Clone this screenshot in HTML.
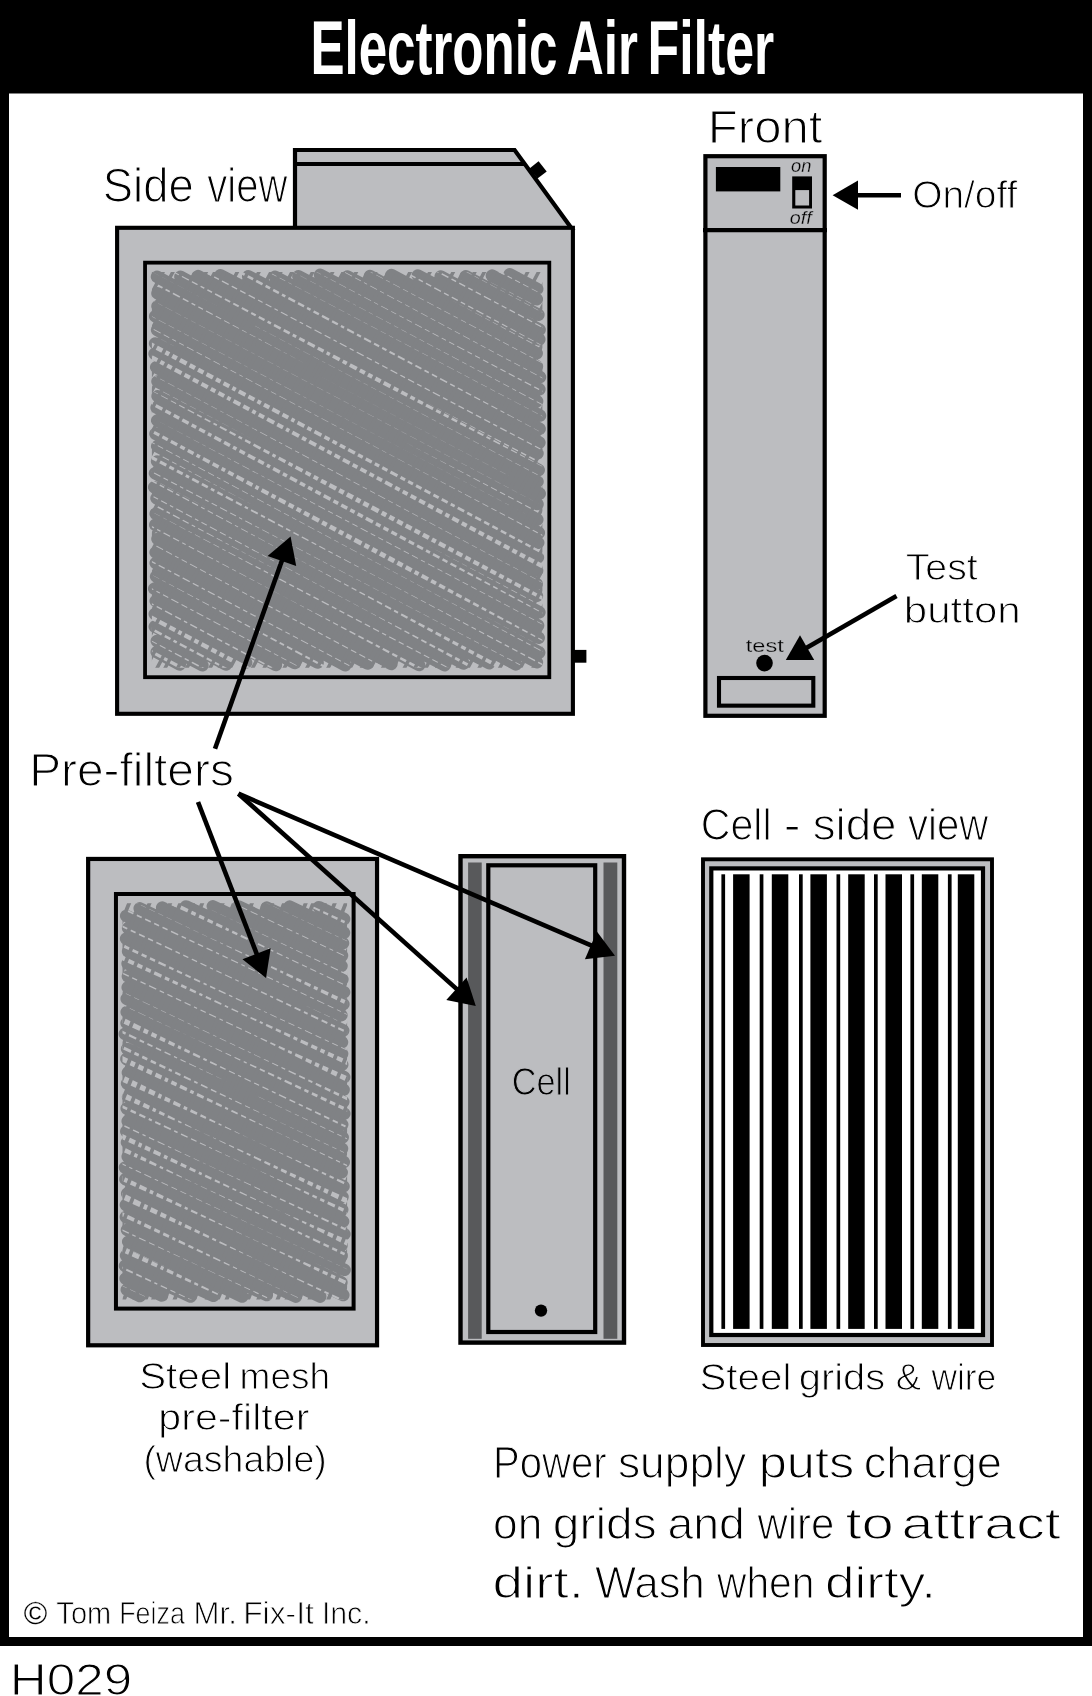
<!DOCTYPE html>
<html><head><meta charset="utf-8"><title>Electronic Air Filter</title>
<style>
html,body{margin:0;padding:0;background:#fff;}
body{width:1092px;height:1696px;overflow:hidden;font-family:"Liberation Sans",sans-serif;}
svg{display:block;will-change:transform;}
text{font-family:"Liberation Sans",sans-serif;fill:#000;}
.t{font-family:"Liberation Sans",sans-serif;font-weight:bold;fill:#fff;}
</style></head><body>
<svg width="1092" height="1696" viewBox="0 0 1092 1696">
<rect x="0" y="0" width="1092" height="1696" fill="#fff"/>
<rect x="0" y="0" width="1092" height="1646" fill="#000"/>
<rect x="9" y="93.5" width="1074" height="1543.5" fill="#fff"/>
<path d="M295 228V150H514.6L571.3 228Z" fill="#bcbdc0" stroke="#000" stroke-width="4.2" stroke-linejoin="miter"/>
<path d="M295 163.9H524.5" stroke="#000" stroke-width="4" fill="none"/>
<path d="M529.5 168.5 L538.6 161.3 L546.7 171.4 L537.5 178.6Z" fill="#000"/>
<rect x="573" y="649.9" width="13.4" height="12.8" fill="#000"/>
<rect x="117.1" y="227.8" width="455.8" height="486.0" fill="#bcbdc0" stroke="#000" stroke-width="4.1"/>
<rect x="145.05" y="262.65" width="404.25" height="414.55" fill="#bcbdc0" stroke="#000" stroke-width="3.8"/>
<clipPath id="c1"><rect x="146.9" y="264.5" width="400.5" height="410.8"/></clipPath>
<g clip-path="url(#c1)">
<path d="M509.7 274.3L537.2 289.0 M491.9 275.6L536.8 299.2 M465.8 276.2L538.4 314.7 M440.7 276.4L539.6 329.7 M417.8 275.5L539.3 339.4 M391.4 274.9L536.7 353.2 M369.9 276.1L536.9 366.3 M347.4 276.5L540.0 377.0 M320.1 274.8L539.4 389.3 M298.4 276.2L537.1 401.2 M275.0 276.7L540.0 415.6 M248.2 276.2L539.6 428.9 M220.4 275.2L539.4 442.5 M197.9 276.1L537.5 453.3 M180.4 276.8L538.7 470.0 M157.0 276.8L537.5 481.6 M157.5 293.3L539.7 493.6 M157.5 306.2L537.5 504.1 M155.2 316.3L537.3 519.5 M157.1 329.9L538.8 532.7 M155.1 343.4L538.2 542.7 M154.6 353.7L537.9 557.4 M156.2 367.2L537.1 570.6 M157.5 381.4L536.7 583.9 M157.6 396.2L536.9 595.9 M156.6 407.6L539.4 612.3 M157.2 420.5L538.1 625.5 M155.5 433.7L538.7 637.7 M157.2 446.3L539.2 652.5 M157.1 461.4L536.9 662.3 M155.0 473.2L516.0 664.4 M154.2 487.2L489.3 663.2 M156.5 498.3L463.5 663.5 M155.7 513.7L444.7 665.2 M155.3 524.8L419.1 665.1 M157.5 538.9L391.4 663.9 M155.6 552.4L367.6 663.5 M155.7 562.9L345.2 665.2 M156.1 576.4L317.6 662.6 M154.2 588.6L294.7 663.0 M155.7 600.9L275.9 665.0 M154.8 613.9L246.1 662.6 M154.8 626.6L226.0 664.6 M156.8 641.0L202.4 665.3 M156.7 652.0L179.8 664.4" stroke="#808285" stroke-width="12.5" stroke-linecap="round" fill="none"/>
<clipPath id="c1s"><rect x="151.9" y="272.0" width="390.5" height="395.8"/></clipPath>
<g clip-path="url(#c1s)">
<path d="M143.2 49.0L406.5 190.7L552.5 270.8L552.3 271.1L404.7 194.1L140.6 53.8Z M142.5 65.8L276.1 136.1L552.5 282.2L552.3 282.7L275.1 138.1L141.3 68.0Z M142.0 83.6L403.7 219.7L552.5 299.5L552.3 299.9L402.2 222.5L141.8 83.9Z M142.0 97.8L384.9 227.7L552.5 317.7L552.3 317.9L384.5 228.4L141.8 98.3Z M143.0 112.8L299.8 197.3L552.6 332.1L552.2 333.0L298.7 199.3L140.8 116.9Z M142.6 129.9L270.1 198.6L552.6 350.8L552.2 351.4L269.1 200.6L141.2 132.5Z M142.4 149.7L353.6 262.7L552.6 368.0L552.2 368.7L353.4 263.1L141.4 151.7Z M142.1 163.2L413.1 308.5L552.6 383.2L552.2 383.8L412.8 309.1L141.7 164.1Z M141.9 179.7L297.0 261.5L552.7 395.9L552.1 397.0L296.8 261.7L141.9 179.9Z M142.0 191.3L348.9 301.5L552.6 409.6L552.2 410.3L348.8 301.7L141.8 191.6Z M142.6 204.1L298.6 287.8L552.5 421.3L552.3 421.7L298.5 288.0L141.2 206.7Z M142.6 218.8L398.6 355.4L552.4 438.2L552.4 438.4L397.6 357.2L141.2 221.4Z M142.3 238.0L304.6 324.1L552.7 454.8L552.1 455.9L304.1 324.9L141.5 239.5Z M142.0 255.1L378.5 377.7L552.5 471.5L552.3 471.9L376.6 381.4L141.8 255.6Z M141.9 266.4L347.7 374.6L552.5 482.3L552.3 482.8L347.6 374.8L141.9 266.5Z M141.9 282.6L289.1 360.1L552.4 498.6L552.4 498.7L289.1 360.1L141.9 282.6Z M141.9 294.8L341.0 399.5L552.4 510.9L552.4 511.0L340.9 399.7L141.9 294.9Z M142.0 311.1L403.7 449.5L552.4 528.0L552.4 528.0L403.6 449.6L141.8 311.5Z M142.1 322.9L411.8 465.9L552.7 540.1L552.1 541.0L411.6 466.3L141.7 323.6Z M143.0 337.6L397.9 474.2L552.9 557.3L551.9 559.2L396.5 477.0L140.8 341.8Z M142.9 350.2L380.0 477.2L553.4 569.6L551.4 573.6L378.2 480.6L140.9 353.8Z M142.0 369.0L323.6 465.6L552.5 587.9L552.3 588.2L323.3 466.3L141.8 369.4Z M142.0 385.2L353.7 495.2L553.3 601.9L551.5 605.1L351.5 499.4L141.8 385.4Z M142.7 396.7L387.2 527.7L552.6 617.9L552.2 618.6L385.5 530.8L141.1 399.8Z M141.9 412.5L355.6 525.0L552.5 629.4L552.3 629.8L355.1 525.8L141.9 412.5Z M142.6 424.5L390.9 556.4L552.6 645.4L552.2 646.1L388.6 560.8L141.2 427.3Z M142.1 436.8L420.4 585.9L552.6 656.4L552.2 657.2L420.2 586.3L141.7 437.5Z M142.7 450.8L382.8 579.8L552.8 669.2L552.0 670.6L382.6 580.1L141.1 453.7Z M142.2 466.0L388.0 595.5L552.6 681.4L552.2 682.2L387.9 595.7L141.6 467.2Z M142.3 474.7L305.1 562.8L553.6 693.2L551.2 697.6L305.0 562.9L141.5 476.1Z M142.2 489.9L367.6 611.1L553.7 707.8L551.1 712.5L367.5 611.3L141.6 491.0Z M141.9 506.6L308.4 593.5L552.6 722.4L552.2 723.0L307.8 594.7L141.9 506.7Z M142.2 520.9L283.8 596.4L553.7 736.2L551.1 741.0L283.7 596.6L141.6 522.0Z M142.1 537.9L369.2 659.1L552.7 756.6L552.1 757.9L368.8 659.9L141.7 538.8Z M142.2 555.9L309.8 644.3L552.6 772.1L552.2 773.0L309.3 645.1L141.6 557.1Z M141.9 569.5L369.3 688.9L552.5 787.5L552.3 787.9L368.0 691.3L141.9 569.6Z M142.2 583.1L398.0 719.1L552.6 800.7L552.2 801.4L397.8 719.4L141.6 584.1Z M142.2 598.1L428.0 749.9L552.7 816.8L552.1 818.1L427.0 751.8L141.6 599.1Z M142.9 610.7L279.0 682.6L552.5 830.1L552.3 830.5L276.9 686.7L140.9 614.3Z M142.5 622.7L373.9 746.7L552.5 841.6L552.3 841.9L373.6 747.3L141.3 625.1Z M142.1 635.6L326.0 731.2L552.8 851.9L552.0 853.3L324.4 734.2L141.7 636.3Z M142.6 645.3L316.2 736.9L553.6 863.0L551.2 867.6L314.0 741.0L141.2 648.1Z M143.1 658.5L331.1 758.3L552.7 877.2L552.1 878.4L329.0 762.2L140.7 663.0Z" fill="#bcbdc0"/>
<path d="M-183.0 837.8L355.7 -175.4 M-173.7 842.8L365.0 -170.4 M-164.7 847.5L374.0 -165.6 M-157.0 851.6L381.7 -161.5 M-147.8 856.5L390.9 -156.6 M-140.1 860.6L398.6 -152.5 M-132.8 864.5L405.9 -148.6 M-122.8 869.8L415.9 -143.3 M-114.1 874.4L424.6 -138.7 M-107.3 878.0L431.4 -135.1 M-99.6 882.1L439.1 -131.0 M-89.9 887.3L448.8 -125.8 M-81.5 891.8L457.2 -121.3 M-73.0 896.3L465.7 -116.9 M-63.6 901.3L475.1 -111.8 M-56.0 905.3L482.7 -107.8 M-47.2 910.0L491.5 -103.1 M-40.8 913.4L497.9 -99.7 M-31.1 918.6L507.6 -94.6 M-22.1 923.4L516.6 -89.8 M-15.6 926.8L523.1 -86.3 M-7.2 931.3L531.5 -81.9 M2.9 936.7L541.6 -76.5 M11.8 941.3L550.4 -71.8 M18.0 944.7L556.7 -68.5 M27.8 949.9L566.5 -63.2 M34.9 953.7L573.6 -59.5 M44.9 959.0L583.6 -54.2 M53.0 963.3L591.7 -49.8 M60.4 967.2L599.0 -45.9 M68.7 971.6L607.4 -41.5 M78.5 976.8L617.2 -36.3 M86.2 981.0L624.9 -32.2 M95.3 985.8L634.0 -27.4 M102.7 989.7L641.4 -23.4 M110.9 994.1L649.6 -19.1 M121.0 999.4L659.7 -13.7 M128.6 1003.5L667.3 -9.7 M136.5 1007.7L675.2 -5.5 M145.0 1012.2L683.7 -0.9 M153.9 1016.9L692.6 3.8 M162.2 1021.4L700.9 8.2 M171.2 1026.1L709.9 13.0 M178.2 1029.9L716.9 16.7 M187.7 1034.9L726.4 21.8 M195.7 1039.1L734.4 26.0 M204.6 1043.9L743.3 30.7 M212.8 1048.3L751.5 35.1 M221.3 1052.8L760.0 39.6 M229.8 1057.3L768.5 44.2 M238.4 1061.9L777.1 48.7 M245.9 1065.9L784.6 52.7 M254.0 1070.2L792.7 57.0 M262.9 1074.9L801.6 61.7 M271.5 1079.5L810.2 66.3 M278.9 1083.4L817.6 70.3 M287.3 1087.9L826.0 74.7 M295.0 1091.9L833.6 78.8 M304.9 1097.2L843.6 84.1 M314.0 1102.0L852.7 88.9 M320.7 1105.6L859.4 92.5 M328.6 1109.8L867.3 96.7 M337.0 1114.3L875.7 101.2" stroke="#808285" stroke-width="3.5" fill="none"/>
</g></g>
<rect x="705.4" y="156.2" width="119.3" height="559.6" fill="#bcbdc0" stroke="#000" stroke-width="4.2"/>
<path d="M703 230.1H827" stroke="#000" stroke-width="4.2"/>
<rect x="715.9" y="167" width="64.4" height="24.4" fill="#000"/>
<rect x="792.2" y="176.4" width="19.8" height="32.1" fill="#000"/>
<rect x="795.3" y="190.1" width="13.8" height="15.4" fill="#bcbdc0"/>
<rect x="719" y="678" width="94.3" height="27.65" fill="#bcbdc0" stroke="#000" stroke-width="4.1"/>
<circle cx="764.5" cy="663.1" r="8.3" fill="#000"/>
<rect x="88.15" y="858.95" width="288.9" height="486.35" fill="#bcbdc0" stroke="#000" stroke-width="4.2"/>
<rect x="115.95" y="894" width="237.65" height="414.6" fill="#bcbdc0" stroke="#000" stroke-width="4.0"/>
<clipPath id="c2"><rect x="118" y="896.2" width="233.6" height="410.2"/></clipPath>
<g clip-path="url(#c2)">
<path d="M318.9 907.2L344.1 919.0 M289.6 906.6L344.0 932.7 M266.7 907.6L343.0 943.2 M238.3 906.4L342.0 955.5 M212.8 906.3L341.5 965.8 M186.0 906.4L342.4 979.3 M162.2 907.6L344.1 992.2 M139.7 908.3L343.4 1004.2 M126.2 915.9L341.4 1015.2 M128.1 928.1L343.2 1030.5 M126.1 938.7L342.0 1042.2 M128.1 951.4L342.1 1053.8 M127.6 963.6L342.2 1064.7 M127.9 976.3L344.2 1077.2 M127.7 987.4L343.6 1089.7 M126.7 998.8L343.3 1101.8 M126.7 1012.1L344.3 1113.7 M126.6 1023.1L342.2 1124.6 M124.8 1033.9L342.7 1137.3 M127.1 1048.9L342.0 1148.6 M126.4 1059.0L343.8 1162.0 M127.9 1072.7L341.7 1172.3 M127.1 1083.5L343.5 1186.4 M128.1 1096.9L342.5 1196.8 M126.7 1108.5L342.2 1209.7 M127.7 1121.2L343.1 1221.4 M126.3 1131.4L344.4 1234.2 M127.0 1142.5L341.5 1245.4 M127.7 1156.6L341.7 1255.7 M125.0 1167.5L344.6 1269.8 M125.4 1179.2L341.4 1282.5 M127.2 1193.6L343.3 1295.0 M125.9 1205.0L320.2 1296.7 M125.9 1217.0L295.9 1296.7 M127.0 1229.8L266.8 1295.1 M128.2 1241.8L242.2 1296.5 M126.1 1255.5L213.4 1295.8 M125.0 1265.9L190.6 1296.6 M125.6 1278.5L162.0 1295.5 M126.8 1289.7L139.9 1296.0" stroke="#808285" stroke-width="12.5" stroke-linecap="round" fill="none"/>
<clipPath id="c2s"><rect x="122.5" y="903.2" width="224.6" height="396.2"/></clipPath>
<g clip-path="url(#c2s)">
<path d="M113.2 796.8L243.4 858.9L357.0 911.6L356.2 913.5L243.4 859.1L112.8 797.9Z M113.1 813.1L246.6 876.0L357.3 926.5L355.9 929.2L246.5 876.1L112.9 813.4Z M114.0 828.6L234.2 887.8L356.7 945.3L356.5 945.7L234.1 887.8L112.0 832.8Z M113.6 844.9L201.2 887.5L356.8 961.2L356.4 962.0L200.8 888.4L112.4 847.7Z M114.2 860.6L193.8 901.5L356.8 978.5L356.4 979.4L193.8 901.6L111.8 865.6Z M114.2 872.7L283.0 955.2L356.8 990.3L356.4 991.0L282.6 956.2L111.8 877.9Z M113.1 891.7L207.3 936.5L357.5 1005.5L355.7 1009.4L207.2 936.7L112.9 892.1Z M113.4 903.1L242.0 964.3L356.8 1018.6L356.4 1019.3L241.6 965.3L112.6 904.9Z M113.4 921.1L226.6 975.1L357.1 1035.7L356.1 1038.0L226.3 975.9L112.6 922.9Z M113.7 939.8L263.8 1010.9L356.8 1054.2L356.4 1054.8L263.4 1011.6L112.3 942.7Z M114.0 951.6L237.2 1010.8L357.6 1064.9L355.6 1069.2L236.7 1011.9L112.0 955.7Z M113.3 968.1L256.3 1035.7L357.9 1080.8L355.3 1086.2L255.8 1036.6L112.7 969.3Z M113.1 987.4L261.1 1057.5L357.3 1101.8L355.9 1104.7L260.8 1058.1L112.9 987.7Z M113.1 1000.3L189.9 1036.4L357.4 1112.7L355.8 1116.1L189.8 1036.6L112.9 1000.9Z M114.2 1013.2L229.8 1070.8L357.0 1130.8L356.2 1132.6L229.4 1071.7L111.8 1018.3Z M113.6 1026.4L227.8 1082.1L356.8 1143.0L356.4 1143.7L227.8 1082.1L112.4 1028.8Z M113.7 1041.5L278.1 1121.2L356.7 1158.1L356.5 1158.7L278.1 1121.4L112.3 1044.6Z M114.2 1051.9L280.0 1133.5L356.9 1169.3L356.3 1170.7L279.9 1133.8L111.8 1057.0Z M114.4 1071.0L248.1 1137.7L357.2 1187.6L356.0 1190.1L248.0 1137.7L111.6 1077.0Z M114.4 1087.5L201.1 1132.0L357.8 1202.9L355.4 1207.8L201.0 1132.1L111.6 1093.5Z M113.6 1101.0L250.9 1166.8L357.4 1214.5L355.8 1218.1L250.9 1166.8L112.4 1103.6Z M113.4 1120.0L210.1 1166.0L357.1 1233.5L356.1 1235.7L210.0 1166.2L112.6 1121.5Z M114.1 1130.0L281.9 1211.9L358.0 1244.2L355.2 1250.1L281.9 1212.0L111.9 1134.6Z M114.2 1142.2L191.1 1181.5L357.2 1258.5L356.0 1261.2L191.0 1181.7L111.8 1147.1Z M113.2 1159.2L270.4 1233.3L356.7 1273.5L356.5 1273.8L270.4 1233.4L112.8 1160.2Z M114.1 1172.0L246.5 1236.3L357.5 1285.6L355.7 1289.6L246.4 1236.4L111.9 1176.5Z M114.4 1188.8L257.3 1259.9L357.2 1305.8L356.0 1308.2L257.2 1260.1L111.6 1194.6Z M113.9 1208.1L268.8 1283.7L356.9 1324.8L356.3 1326.0L268.7 1283.9L112.1 1211.9Z M113.3 1225.2L196.8 1264.8L357.1 1338.5L356.1 1340.5L196.7 1265.0L112.7 1226.4Z M114.2 1242.4L228.7 1298.8L356.7 1359.4L356.5 1359.8L228.2 1299.7L111.8 1247.4Z M113.5 1262.5L203.7 1305.4L356.8 1376.4L356.4 1377.3L203.5 1305.9L112.5 1264.5Z M113.1 1281.3L204.9 1324.3L356.7 1395.0L356.5 1395.5L204.8 1324.5L112.9 1281.8Z M113.2 1300.4L188.7 1335.7L357.7 1411.5L355.5 1416.3L188.5 1336.0L112.8 1301.1Z" fill="#bcbdc0"/>
<path d="M-171.5 1446.3L182.1 570.9 M-162.3 1450.0L191.4 574.6 M-153.1 1453.7L200.6 578.4 M-145.8 1456.7L207.9 581.3 M-134.8 1461.1L218.9 585.7 M-127.6 1464.0L226.0 588.6 M-117.4 1468.1L236.2 592.8 M-110.4 1470.9L243.3 595.6 M-101.7 1474.5L252.0 599.1 M-92.6 1478.1L261.0 602.8 M-84.1 1481.6L269.5 606.2 M-74.9 1485.3L278.8 610.0 M-66.4 1488.8L287.3 613.4 M-57.7 1492.3L296.0 616.9 M-46.8 1496.7L306.9 621.3 M-38.8 1499.9L314.8 624.5 M-30.1 1503.4L323.5 628.0 M-21.3 1507.0L332.4 631.6 M-11.6 1510.9L342.0 635.5 M-5.0 1513.6L348.7 638.2 M3.9 1517.1L357.5 641.8 M14.4 1521.4L368.1 646.0 M21.4 1524.2L375.0 648.8 M31.6 1528.3L385.2 653.0 M40.7 1532.0L394.4 656.6 M50.1 1535.8L403.8 660.5 M56.6 1538.4L410.2 663.1 M66.5 1542.4L420.2 667.1 M75.1 1545.9L428.7 670.5 M84.6 1549.7L438.3 674.4 M91.9 1552.7L445.6 677.3 M102.7 1557.1L456.4 681.7 M112.1 1560.8L465.8 685.5 M119.8 1563.9L473.4 688.6 M128.9 1567.6L482.6 692.3 M138.2 1571.4L491.8 696.0 M147.0 1575.0L500.7 699.6 M155.7 1578.5L509.4 703.1 M163.6 1581.7L517.3 706.3 M171.3 1584.8L525.0 709.4 M182.1 1589.1L535.8 713.8 M191.0 1592.7L544.7 717.4 M199.5 1596.1L553.1 720.8 M207.2 1599.3L560.9 723.9 M217.8 1603.6L571.5 728.2 M225.7 1606.7L579.3 731.4 M233.6 1609.9L587.3 734.6 M243.7 1614.0L597.4 738.7 M251.0 1617.0L604.6 741.6 M259.8 1620.5L613.5 745.2 M270.5 1624.8L624.2 749.5 M276.9 1627.4L630.6 752.1" stroke="#808285" stroke-width="3.8" fill="none"/>
</g></g>
<rect x="460.5" y="856.2" width="163.5" height="486.4" fill="#bcbdc0" stroke="#000" stroke-width="4.4"/>
<rect x="468.1" y="862.5" width="13.6" height="476.3" fill="#58595b"/>
<rect x="603.5" y="862.5" width="13.8" height="476.3" fill="#58595b"/>
<rect x="488.3" y="865.3" width="106.9" height="466.7" fill="#bcbdc0" stroke="#000" stroke-width="4.2"/>
<circle cx="541" cy="1310.6" r="6.2" fill="#000"/>
<rect x="703" y="859.3" width="289" height="485.7" fill="#bcbdc0" stroke="#000" stroke-width="3.9"/>
<rect x="711.3" y="868.4" width="271.7" height="466.6" fill="#fff" stroke="#000" stroke-width="4.2"/>
<rect x="721.4" y="874.3" width="3.7" height="454.6" fill="#000"/>
<rect x="759.7" y="874.3" width="3.7" height="454.6" fill="#000"/>
<rect x="799.0" y="874.3" width="3.7" height="454.6" fill="#000"/>
<rect x="836.5" y="874.3" width="3.7" height="454.6" fill="#000"/>
<rect x="874.0" y="874.3" width="3.7" height="454.6" fill="#000"/>
<rect x="910.4" y="874.3" width="3.7" height="454.6" fill="#000"/>
<rect x="947.9" y="874.3" width="3.7" height="454.6" fill="#000"/>
<rect x="733.1" y="874.3" width="16.5" height="454.6" fill="#000"/>
<rect x="771.8" y="874.3" width="16.5" height="454.6" fill="#000"/>
<rect x="810.4" y="874.3" width="16.5" height="454.6" fill="#000"/>
<rect x="848.2" y="874.3" width="16.5" height="454.6" fill="#000"/>
<rect x="885.5" y="874.3" width="16.5" height="454.6" fill="#000"/>
<rect x="921.8" y="874.3" width="16.5" height="454.6" fill="#000"/>
<rect x="957.8" y="874.3" width="16.5" height="454.6" fill="#000"/>
<text x="310.38" y="73.9" font-size="76.5" textLength="247.01" lengthAdjust="spacingAndGlyphs" class="t" >Electronic</text>
<text x="566.72" y="73.9" font-size="76.5" textLength="71.25" lengthAdjust="spacingAndGlyphs" class="t" >Air</text>
<text x="647.53" y="73.9" font-size="76.5" textLength="126.75" lengthAdjust="spacingAndGlyphs" class="t" >Filter</text>
<text x="102.82" y="202.3" font-size="47.5" textLength="90.81" lengthAdjust="spacingAndGlyphs"  stroke="#fff" stroke-width="1.23">Side</text>
<text x="207.25" y="202.3" font-size="47.5" textLength="80.07" lengthAdjust="spacingAndGlyphs"  stroke="#fff" stroke-width="1.23">view</text>
<text x="707.88" y="142.5" font-size="45.5" textLength="114.57" lengthAdjust="spacingAndGlyphs"  stroke="#fff" stroke-width="1.18">Front</text>
<text x="912.15" y="207.5" font-size="39.5" textLength="105.3" lengthAdjust="spacingAndGlyphs"  stroke="#fff" stroke-width="1.03">On/off</text>
<text x="905.7" y="580" font-size="36" textLength="72.04" lengthAdjust="spacingAndGlyphs"  stroke="#fff" stroke-width="0.94">Test</text>
<text x="903.82" y="622.5" font-size="36" textLength="116.88" lengthAdjust="spacingAndGlyphs"  stroke="#fff" stroke-width="0.94">button</text>
<text x="29.18" y="786.3" font-size="46" textLength="204.65" lengthAdjust="spacingAndGlyphs"  stroke="#fff" stroke-width="1.2">Pre-filters</text>
<text x="700.73" y="840.3" font-size="44.5" textLength="70.8" lengthAdjust="spacingAndGlyphs"  stroke="#fff" stroke-width="1.16">Cell</text>
<text x="783.77" y="840.3" font-size="44.5" textLength="16.86" lengthAdjust="spacingAndGlyphs"  stroke="#fff" stroke-width="1.16">-</text>
<text x="812.75" y="840.3" font-size="44.5" textLength="83.76" lengthAdjust="spacingAndGlyphs"  stroke="#fff" stroke-width="1.16">side</text>
<text x="907.98" y="840.3" font-size="44.5" textLength="80.2" lengthAdjust="spacingAndGlyphs"  stroke="#fff" stroke-width="1.16">view</text>
<text x="511.74" y="1095" font-size="39.5" textLength="59.06" lengthAdjust="spacingAndGlyphs"  stroke="#bcbdc0" stroke-width="1.03">Cell</text>
<text x="699.4" y="1390.4" font-size="36" textLength="91.97" lengthAdjust="spacingAndGlyphs"  stroke="#fff" stroke-width="0.94">Steel</text>
<text x="798.65" y="1390.4" font-size="36" textLength="86.66" lengthAdjust="spacingAndGlyphs"  stroke="#fff" stroke-width="0.94">grids</text>
<text x="895.69" y="1390.4" font-size="36" textLength="25.37" lengthAdjust="spacingAndGlyphs"  stroke="#fff" stroke-width="0.94">&amp;</text>
<text x="931.38" y="1390.4" font-size="36" textLength="64.86" lengthAdjust="spacingAndGlyphs"  stroke="#fff" stroke-width="0.94">wire</text>
<text x="139.18" y="1389.3" font-size="37.5" textLength="92.0" lengthAdjust="spacingAndGlyphs"  stroke="#fff" stroke-width="0.97">Steel</text>
<text x="239.56" y="1389.3" font-size="37.5" textLength="90.53" lengthAdjust="spacingAndGlyphs"  stroke="#fff" stroke-width="0.97">mesh</text>
<text x="158.36" y="1430.3" font-size="37.5" textLength="151.01" lengthAdjust="spacingAndGlyphs"  stroke="#fff" stroke-width="0.97">pre-filter</text>
<text x="143.39" y="1471.5" font-size="37.5" textLength="183.42" lengthAdjust="spacingAndGlyphs"  stroke="#fff" stroke-width="0.97">(washable)</text>
<text x="493.03" y="1478.4" font-size="44.5" textLength="113.61" lengthAdjust="spacingAndGlyphs"  stroke="#fff" stroke-width="1.16">Power</text>
<text x="617.88" y="1478.4" font-size="44.5" textLength="128.28" lengthAdjust="spacingAndGlyphs"  stroke="#fff" stroke-width="1.16">supply</text>
<text x="758.66" y="1478.4" font-size="44.5" textLength="95.65" lengthAdjust="spacingAndGlyphs"  stroke="#fff" stroke-width="1.16">puts</text>
<text x="863.7" y="1478.4" font-size="44.5" textLength="138.29" lengthAdjust="spacingAndGlyphs"  stroke="#fff" stroke-width="1.16">charge</text>
<text x="493.06" y="1538.5" font-size="44.5" textLength="49.3" lengthAdjust="spacingAndGlyphs"  stroke="#fff" stroke-width="1.16">on</text>
<text x="552.81" y="1538.5" font-size="44.5" textLength="103.8" lengthAdjust="spacingAndGlyphs"  stroke="#fff" stroke-width="1.16">grids</text>
<text x="667.45" y="1538.5" font-size="44.5" textLength="77.53" lengthAdjust="spacingAndGlyphs"  stroke="#fff" stroke-width="1.16">and</text>
<text x="757.38" y="1538.5" font-size="44.5" textLength="76.86" lengthAdjust="spacingAndGlyphs"  stroke="#fff" stroke-width="1.16">wire</text>
<text x="845.44" y="1538.5" font-size="44.5" textLength="48.48" lengthAdjust="spacingAndGlyphs"  stroke="#fff" stroke-width="1.16">to</text>
<text x="901.59" y="1538.5" font-size="44.5" textLength="159.21" lengthAdjust="spacingAndGlyphs"  stroke="#fff" stroke-width="1.16">attract</text>
<text x="492.62" y="1598.3" font-size="44.5" textLength="91.47" lengthAdjust="spacingAndGlyphs"  stroke="#fff" stroke-width="1.16">dirt.</text>
<text x="595.03" y="1598.3" font-size="44.5" textLength="109.84" lengthAdjust="spacingAndGlyphs"  stroke="#fff" stroke-width="1.16">Wash</text>
<text x="716.98" y="1598.3" font-size="44.5" textLength="97.45" lengthAdjust="spacingAndGlyphs"  stroke="#fff" stroke-width="1.16">when</text>
<text x="824.97" y="1598.3" font-size="44.5" textLength="110.99" lengthAdjust="spacingAndGlyphs"  stroke="#fff" stroke-width="1.16">dirty.</text>
<text x="23.67" y="1624.2" font-size="32" textLength="23.48" lengthAdjust="spacingAndGlyphs"  stroke="#fff" stroke-width="0.1">©</text>
<text x="56.37" y="1624.2" font-size="32" textLength="54.85" lengthAdjust="spacingAndGlyphs"  stroke="#fff" stroke-width="0.83">Tom</text>
<text x="119.18" y="1624.2" font-size="32" textLength="65.74" lengthAdjust="spacingAndGlyphs"  stroke="#fff" stroke-width="0.83">Feiza</text>
<text x="193.52" y="1624.2" font-size="32" textLength="43.33" lengthAdjust="spacingAndGlyphs"  stroke="#fff" stroke-width="0.83">Mr.</text>
<text x="243.17" y="1624.2" font-size="32" textLength="70.78" lengthAdjust="spacingAndGlyphs"  stroke="#fff" stroke-width="0.83">Fix-It</text>
<text x="321.89" y="1624.2" font-size="32" textLength="48.79" lengthAdjust="spacingAndGlyphs"  stroke="#fff" stroke-width="0.83">Inc.</text>
<text x="9.82" y="1695" font-size="44.5" textLength="122.49" lengthAdjust="spacingAndGlyphs"  stroke="#fff" stroke-width="1.16">H029</text>
<text x="791.05" y="172.3" font-size="19" textLength="20.33" lengthAdjust="spacingAndGlyphs"  font-style="italic" stroke="#bcbdc0" stroke-width="0.3">on</text>
<text x="789.7" y="223.5" font-size="18" textLength="21.94" lengthAdjust="spacingAndGlyphs"  font-style="italic" stroke="#bcbdc0" stroke-width="0.3">off</text>
<text x="745.79" y="651.5" font-size="18.5" textLength="38.03" lengthAdjust="spacingAndGlyphs"  stroke="#bcbdc0" stroke-width="0.3">test</text>
<path d="M901.0 195.2L856.0 195.2" stroke="#000" stroke-width="4.6" fill="none"/>
<path d="M832.6 195.2L858.0 180.6L858.0 209.8Z" fill="#000"/>
<path d="M896.5 596.0L805.4 648.6" stroke="#000" stroke-width="4.6" fill="none"/>
<path d="M785.8 659.9L800.0 635.3L814.2 659.9Z" fill="#000"/>
<path d="M215.0 748.7L282.5 559.1" stroke="#000" stroke-width="4.6" fill="none"/>
<path d="M290.6 536.5L296.2 566.1L267.6 555.9Z" fill="#000"/>
<path d="M198.0 802.0L257.4 955.6" stroke="#000" stroke-width="4.6" fill="none"/>
<path d="M266.0 978.0L242.5 959.2L270.7 948.3Z" fill="#000"/>
<path d="M238.4 793.7L457.9 990.1" stroke="#000" stroke-width="4.6" fill="none"/>
<path d="M475.8 1006.1L446.3 1000.1L466.6 977.4Z" fill="#000"/>
<path d="M238.4 793.7L592.8 946.1" stroke="#000" stroke-width="4.6" fill="none"/>
<path d="M615.0 955.7L584.9 959.3L596.9 931.4Z" fill="#000"/>
</svg></body></html>
